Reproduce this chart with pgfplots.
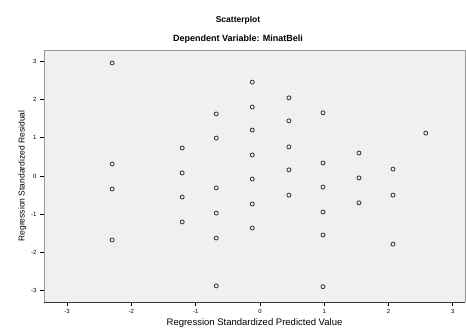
\documentclass[border=0pt]{standalone}
\usepackage{pgfplots}
\pgfplotsset{compat=1.18}
\usepackage{fontspec}
\setmainfont{Liberation Sans}
\definecolor{bgfill}{RGB}{240,240,240}
\definecolor{frame}{RGB}{150,150,150}
\begin{document}
\begin{tikzpicture}
\useasboundingbox (0,0) rectangle (466pt,336pt);
\begin{axis}[
  at={(44pt,34pt)}, anchor=south west,
  scale only axis, width=421pt, height=252pt,
  xmin=-3.36, xmax=3.19, ymin=-3.29, ymax=3.29,
  axis background/.style={fill=bgfill},
  axis line style={frame, line width=0.8pt},
  axis x line*=bottom, axis y line*=left,
  x axis line style={black!80},
  xtick={-3,-2,-1,0,1,2,3}, ytick={-3,-2,-1,0,1,2,3},
  tick style={black, line width=0.8pt},
  tick align=outside, major tick length=4pt,
  ticklabel style={font=\fontsize{6}{7}\selectfont},
  /pgf/number format/assume math mode=true,
  xlabel={Regression Standardized Predicted Value},
  ylabel={Regression Standardized Residual},
  xlabel style={font=\fontsize{9.5}{10}\selectfont, yshift=2pt},
  ylabel style={font=\fontsize{8.5}{9}\selectfont, yshift=-2pt},
  clip=false,
]
\addplot[draw=none] coordinates {(-3.36,3.29)(3.19,3.29)};
\draw[frame, line width=0.8pt] (axis cs:-3.36,3.29) -- (axis cs:3.19,3.29) -- (axis cs:3.19,-3.29);
\addplot[only marks, mark=o, mark size=2pt, draw=black!80, line width=0.8pt] table {
x y
-2.30 2.95
-2.30 0.31
-2.30 -0.34
-2.30 -1.67
-1.21 0.73
-1.21 0.08
-1.21 -0.55
-1.21 -1.20
-0.68 1.62
-0.68 0.99
-0.68 -0.31
-0.68 -0.97
-0.68 -1.62
-0.68 -2.87
-0.12 2.45
-0.12 1.80
-0.12 1.20
-0.12 0.55
-0.12 -0.08
-0.12 -0.73
-0.12 -1.36
0.45 2.04
0.45 1.44
0.45 0.76
0.45 0.16
0.45 -0.50
0.98 1.65
0.98 0.34
0.98 -0.29
0.98 -0.94
0.98 -1.54
0.98 -2.89
1.54 0.60
1.54 -0.05
1.54 -0.70
2.07 0.18
2.07 -0.50
2.07 -1.78
2.58 1.12
};
\end{axis}
\node[font=\bfseries\fontsize{8.5}{9}\selectfont] at (238pt,316pt) {Scatterplot};
\node[font=\bfseries\fontsize{9}{10}\selectfont] at (238pt,297pt) {Dependent Variable: MinatBeli};
\end{tikzpicture}
\end{document}
